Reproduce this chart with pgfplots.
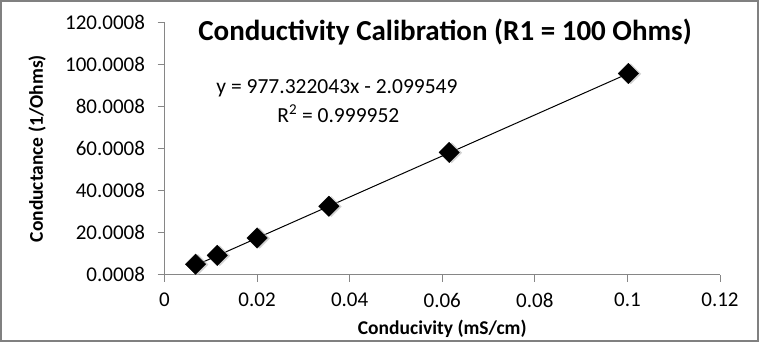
\documentclass[border=0pt]{standalone}
\usepackage{pgfplots}
\pgfplotsset{compat=1.18}
\usepackage{fontspec}
\setmainfont{Carlito}
\definecolor{axgray}{RGB}{134,134,134}
\definecolor{framegray}{RGB}{128,128,128}
\begin{document}
\begin{tikzpicture}
\useasboundingbox (0pt,0pt) rectangle (759pt,345pt);
\draw[draw=framegray, line width=2pt] (1pt,4pt) rectangle (758pt,344pt);
\begin{axis}[
  at={(164.5pt,70.3pt)}, anchor=south west,
  scale only axis, width=555.5pt, height=252pt,
  xmin=0, xmax=0.12, ymin=0.0008, ymax=120.0008,
  axis lines=left, axis line style={-, draw=axgray, line width=1pt},
  tick style={draw=axgray, line width=1pt}, tick align=outside, major tick length=7pt,
  xtick={0,0.02,0.04,0.06,0.08,0.1,0.12},
  xticklabels={0,0.02,0.04,0.06,0.08,0.1,0.12},
  ytick={0.0008,20.0008,40.0008,60.0008,80.0008,100.0008,120.0008},
  yticklabels={0.0008,20.0008,40.0008,60.0008,80.0008,100.0008,120.0008},
  scaled ticks=false,
  ticklabel style={font=\fontsize{21}{24}\selectfont},
  yticklabel style={xshift=-9pt},
  xticklabel style={yshift=-8pt},
  xlabel={\bfseries Conducivity (mS/cm)},
  ylabel={\bfseries Conductance (1/Ohms)},
  label style={font=\fontsize{19.5}{22}\selectfont},
  xlabel style={at={(axis description cs:0.5,-0.213)}, anchor=center},
  ylabel style={at={(axis description cs:-0.2295,0.5)}, anchor=center},
  clip=false,
]
\addplot[black, line width=1pt] coordinates {(0.0067,4.45) (0.1,95.63)};
\addplot[only marks, mark=square*, mark size=7.2pt, mark options={rotate=45, fill=black!35, draw=black!20, opacity=0.5, xshift=1.5pt, yshift=-2pt}]
  coordinates {(0.0067,5.0) (0.0114,9.2) (0.0200,17.5) (0.0355,32.6) (0.0615,58.2) (0.1002,95.8)};
\addplot[only marks, mark=square*, mark size=7.2pt, mark options={rotate=45, fill=black, draw=black}]
  coordinates {(0.0067,5.0) (0.0114,9.2) (0.0200,17.5) (0.0355,32.6) (0.0615,58.2) (0.1002,95.8)};
\node[font=\bfseries\fontsize{29}{33}\selectfont] at (axis description cs:0.505,0.963) {Conductivity Calibration (R1 = 100 Ohms)};
\node[font=\fontsize{21.5}{24}\selectfont] at (axis description cs:0.3105,0.74) {y = 977.322043x - 2.099549};
\node[font=\fontsize{21.5}{24}\selectfont] at (axis description cs:0.313,0.638) {R\textsuperscript{2} = 0.999952};
\end{axis}
\end{tikzpicture}
\end{document}
